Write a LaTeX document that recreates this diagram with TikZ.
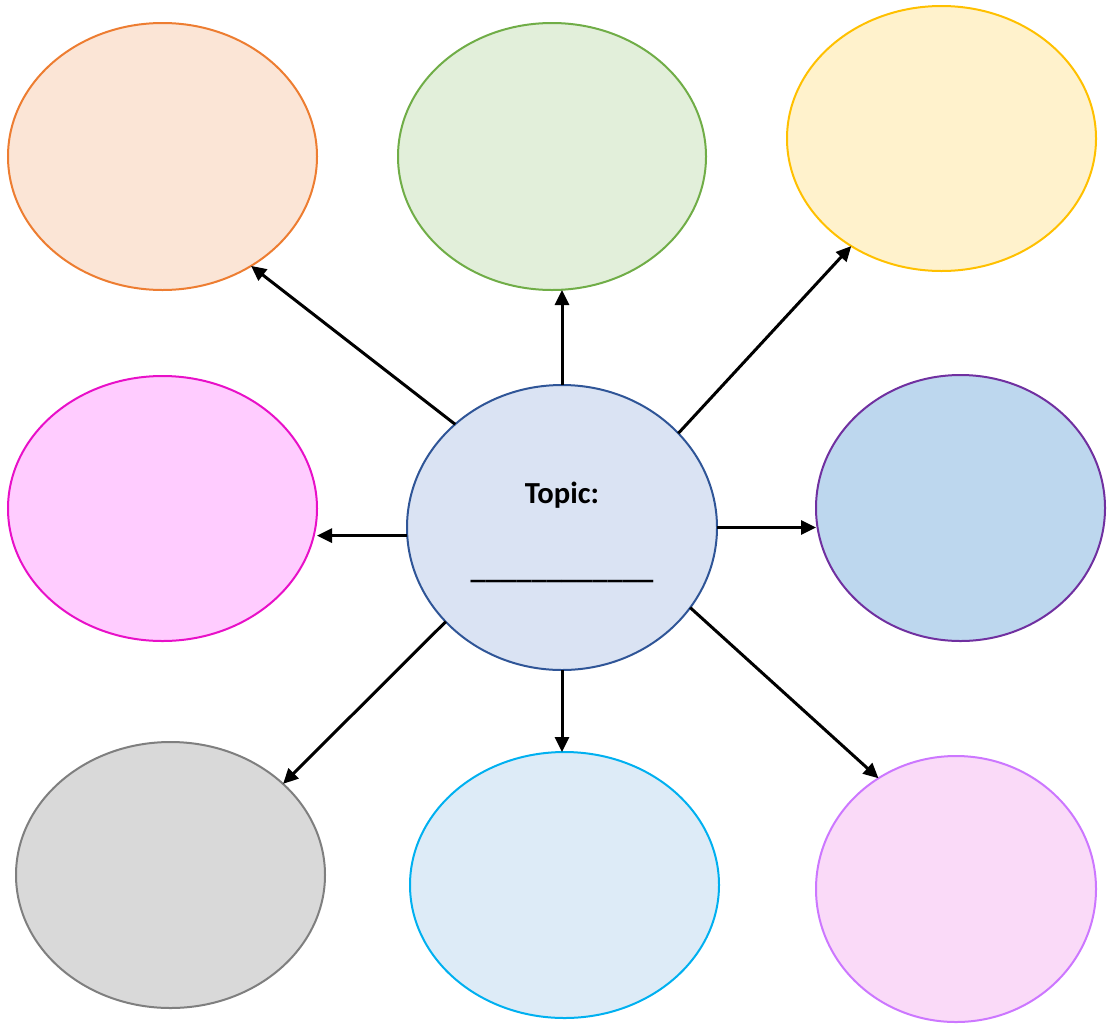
\documentclass[tikz,border=0pt]{standalone}
\usepackage{fontspec}
\setmainfont{Carlito}
\usetikzlibrary{shapes.geometric,arrows.meta}
\definecolor{orF}{HTML}{FBE5D6}\definecolor{orS}{HTML}{ED7D31}
\definecolor{grF}{HTML}{E2EFDA}\definecolor{grS}{HTML}{70AD47}
\definecolor{yeF}{HTML}{FFF2CC}\definecolor{yeS}{HTML}{FFC000}
\definecolor{piF}{HTML}{FFCCFF}\definecolor{piS}{HTML}{E810C8}
\definecolor{ceF}{HTML}{DAE3F3}\definecolor{ceS}{HTML}{2F5597}
\definecolor{blF}{HTML}{BDD7EE}\definecolor{blS}{HTML}{7030A0}
\definecolor{gyF}{HTML}{D9D9D9}\definecolor{gyS}{HTML}{7F7F7F}
\definecolor{lbF}{HTML}{DDEBF7}\definecolor{lbS}{HTML}{00B0F0}
\definecolor{laF}{HTML}{FADAF8}\definecolor{laS}{HTML}{CC77FF}
\tikzset{
  bubble/.style={ellipse, draw=#1S, fill=#1F, line width=1pt, inner sep=0pt, outer sep=0pt},
  conn/.style={line width=1.5pt, -{Triangle[length=7.5pt,width=7pt]}},
  lbl/.style={font=\bfseries\fontsize{15.3}{18}\selectfont, inner sep=0pt}
}
\begin{document}
\begin{tikzpicture}[x=0.5pt,y=-0.5pt]
\useasboundingbox (0,0) rectangle (1107,1023);
\node[bubble=or, minimum width=154.5pt, minimum height=133.5pt] (o) at (162.5,156.5) {};
\node[bubble=gr, minimum width=154pt, minimum height=133.5pt] (g) at (552,156.5) {};
\node[bubble=ye, minimum width=154.5pt, minimum height=132.5pt] (y) at (941.5,138.5) {};
\node[bubble=pi, minimum width=154.5pt, minimum height=132.5pt] (p) at (162.5,508.5) {};
\node[bubble=ce, minimum width=155pt, minimum height=142.5pt] (c) at (562,527.5) {};
\node[bubble=bl, minimum width=144.5pt, minimum height=133pt] (b) at (960.5,508) {};
\node[bubble=gy, minimum width=154.5pt, minimum height=133pt] (k) at (170.5,875) {};
\node[bubble=lb, minimum width=154.5pt, minimum height=133pt] (l) at (564.5,885) {};
\node[bubble=la, minimum width=140pt, minimum height=133pt] (v) at (956,889) {};
\node[lbl, anchor=base] (t) at (562,503) {Topic:};
\node[lbl, anchor=base] (u) at (562,578) {\_\_\_\_\_\_\_\_\_\_\_\_};
\draw[conn] (c.136.8) -- (o.-51.2);
\draw[conn] (c.90) -- (c.90 |- g.south);
\draw[conn] (c.39.5) -- (y.230.9);
\draw[conn] (c.183.1) -- (c.183.1 -| p.east);
\draw[conn] (c.0.9) -- (c.0.9 -| b.west);
\draw[conn] (c.219.5) -- (k.39.8);
\draw[conn] (c.270) -- (c.270 |- l.north);
\draw[conn] (c.328.2) -- (v.125.1);
\end{tikzpicture}
\end{document}
